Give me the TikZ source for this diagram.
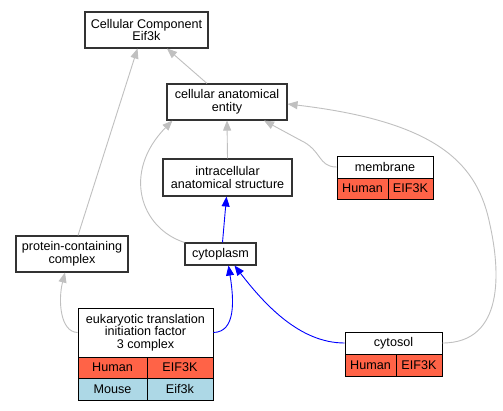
\documentclass[tikz,border=0pt]{standalone}
\usepackage{fontspec}
\setmainfont{Liberation Sans}
\usetikzlibrary{arrows.meta,calc}
\definecolor{tomatoc}{HTML}{FF6347}
\definecolor{lblue}{HTML}{ADD8E6}
\definecolor{edgegray}{HTML}{C0C0C0}
\definecolor{boxline}{HTML}{333333}
\begin{document}
\begin{tikzpicture}[x=1pt,y=-1pt,
  box/.style={draw=boxline, line width=1.1pt, fill=white, inner sep=0pt, align=center,
    font=\fontsize{12.6}{12.6}\selectfont},
  cell/.style={box, line width=0.9pt, draw=black},
  isa/.style={draw=edgegray, line width=0.9pt, -{Triangle[length=10pt,width=8pt]}},
  pof/.style={draw=blue, line width=0.9pt, -{Triangle[length=10pt,width=8pt]}}]
\useasboundingbox[fill=white] (0,0) rectangle (503,411);
% nodes
\node[box, minimum width=123pt, minimum height=36pt] (cc) at (146.5,30) {Cellular Component\\Eif3k};
\node[box, minimum width=120pt, minimum height=36pt] (cae) at (227,102) {cellular anatomical\\entity};
\node[box, minimum width=129pt, minimum height=37pt] (ias) at (227.5,177.5) {intracellular\\anatomical structure};
\node[box, minimum width=112pt, minimum height=36pt] (pcc) at (72,254) {protein-containing\\complex};
\node[box, minimum width=71pt, minimum height=22pt] (cyto) at (220.5,254) {cytoplasm};
% membrane
\node[cell, minimum width=96pt, minimum height=22pt] (mem) at (385,167) {membrane};
\node[cell, fill=tomatoc, minimum width=51pt, minimum height=21pt] (memh) at (362.5,188.5) {Human};
\node[cell, fill=tomatoc, minimum width=45pt, minimum height=21pt] (memg) at (410.5,188.5) {EIF3K};
% eukaryotic
\node[cell, minimum width=135pt, minimum height=49pt] (euk) at (145.5,332.5) {eukaryotic translation\\initiation factor\\3 complex};
\node[cell, fill=tomatoc, minimum width=69pt, minimum height=21pt] (eukh) at (112.5,367.5) {Human};
\node[cell, fill=tomatoc, minimum width=66pt, minimum height=21pt] (eukhg) at (180,367.5) {EIF3K};
\node[cell, fill=lblue, minimum width=69pt, minimum height=22pt] (eukm) at (112.5,389) {Mouse};
\node[cell, fill=lblue, minimum width=66pt, minimum height=22pt] (eukmg) at (180,389) {Eif3k};
% cytosol
\node[cell, minimum width=97pt, minimum height=22pt] (cytosol) at (393.5,343) {cytosol};
\node[cell, fill=tomatoc, minimum width=51pt, minimum height=22pt] (cyth) at (370.5,365) {Human};
\node[cell, fill=tomatoc, minimum width=46pt, minimum height=22pt] (cytg) at (419,365) {EIF3K};
% edges
\draw[isa] ($(pcc.north)+(6,0)$) -- ($(cc.south)+(-9,0)$);
\draw[isa] ($(cae.north)+(-20,0)$) -- ($(cc.south)+(20.5,0)$);
\draw[isa] (ias.north) -- (cae.south);
\draw[isa] (cyto.north west) .. controls (140,228) and (122,172) .. ($(cae.south west)+(6,0)$);
\draw[isa] (mem.west) .. controls (318,167) and (322,150) .. (300,140) -- ($(cae.south)+(37,0)$);
\draw[isa] (cytosol.east) .. controls (505,343) and (500,270) .. (490,225) .. controls (478,165) and (440,122) .. ($(cae.east)+(0,2)$);
\draw[isa] (euk.west) .. controls (60,332) and (58,300) .. ($(pcc.south)+(-7,0)$);
\draw[pof] ($(cyto.north)+(2,0)$) -- ($(ias.south)+(-1,0)$);
\draw[pof] (euk.east) .. controls (236,332) and (234,300) .. ($(cyto.south)+(8,0)$);
\draw[pof] (cytosol.west) .. controls (300,343) and (265,305) .. ($(cyto.south)+(14,0)$);
\end{tikzpicture}
\end{document}
